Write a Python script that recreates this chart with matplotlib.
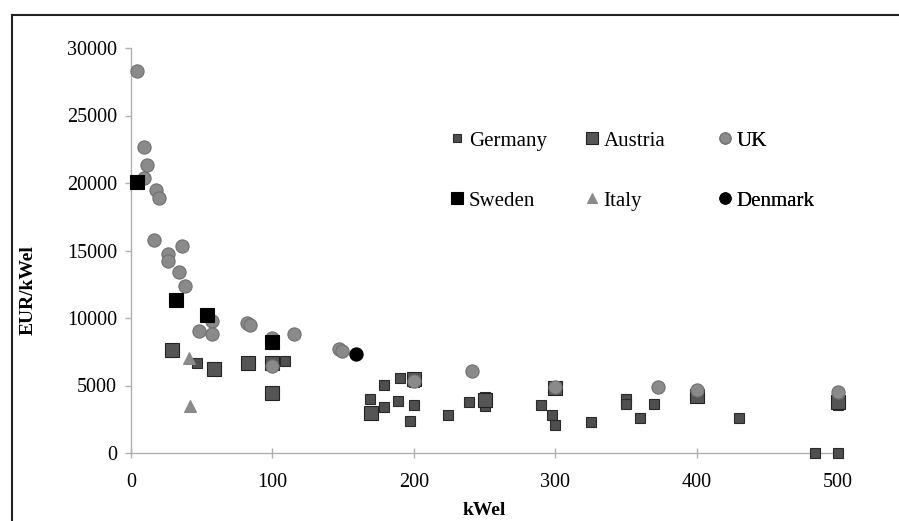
import matplotlib
matplotlib.use('Agg')
import matplotlib.pyplot as plt
from matplotlib.lines import Line2D

# kWel / EUR per kWel
germany_x = [47, 109, 169, 179, 179, 189, 190, 197, 200, 200, 224, 239, 250, 250,
             290, 298, 300, 325, 350, 350, 360, 370, 400, 430, 484, 500, 500, 500]
germany_y = [6650, 6800, 4000, 5050, 3400, 3850, 5550, 2400, 5250, 3550, 2850, 3800, 4150, 3500,
             3550, 2800, 2050, 2300, 4000, 3600, 2600, 3600, 4400, 2600, 0, 0, 4100, 3550]
austria_x = [29, 59, 83, 100, 100, 170, 200, 250, 300, 400, 500]
austria_y = [7600, 6200, 6650, 6650, 4450, 2950, 5500, 3950, 4800, 4200, 3800]
uk_x = [4, 9, 9, 11, 18, 20, 16, 36, 26, 26, 34, 38, 57, 48, 57, 82, 84, 100, 100, 115,
        147, 149, 200, 241, 300, 373, 400, 500]
uk_y = [28300, 22700, 20400, 21300, 19450, 18900, 15750, 15350, 14750, 14200, 13400, 12350,
        9750, 9050, 8800, 9600, 9450, 8550, 6450, 8800, 7700, 7550, 5350, 6100, 4900, 4900,
        4650, 4500]
sweden_x = [4, 32, 54, 100]
sweden_y = [20100, 11300, 10200, 8250]
italy_x = [41, 42]
italy_y = [7050, 3500]
denmark_x = [159]
denmark_y = [7350]

plt.rcParams['font.family'] = ['Liberation Serif', 'DejaVu Serif']

fig = plt.figure(figsize=(8.99, 5.21), dpi=100)
ax = fig.add_axes([131 / 899, 1 - 453 / 521, 707 / 899, 405 / 521])

series = [
    ('Germany', germany_x, germany_y, 's', 6.5, '#4f4f4f', '#2a2a2a'),
    ('Austria', austria_x, austria_y, 's', 10.5, '#555555', '#222222'),
    ('UK', uk_x, uk_y, 'o', 9.5, '#8a8a8a', '#707070'),
    ('Sweden', sweden_x, sweden_y, 's', 10.5, '#000000', '#000000'),
    ('Italy', italy_x, italy_y, '^', 9, '#8a8a8a', '#8a8a8a'),
    ('Denmark', denmark_x, denmark_y, 'o', 9.5, '#000000', '#000000'),
]
handles = []
for name, xs, ys, mk, ms, fc, ec in series:
    ax.plot(xs, ys, linestyle='none', marker=mk, markersize=ms,
            markerfacecolor=fc, markeredgecolor=ec, markeredgewidth=0.8,
            clip_on=False, zorder=3)
    handles.append(Line2D([], [], linestyle='none', marker=mk, markersize=ms * 0.85,
                          markerfacecolor=fc, markeredgecolor=ec, markeredgewidth=0.8,
                          label=name))

ax.set_xlim(0, 500)
ax.set_ylim(0, 30000)
ax.set_xticks([0, 100, 200, 300, 400, 500])
ax.set_yticks([0, 5000, 10000, 15000, 20000, 25000, 30000])
for s in ['top', 'right']:
    ax.spines[s].set_visible(False)
for s in ['left', 'bottom']:
    ax.spines[s].set_color('#b0b0b0')
    ax.spines[s].set_linewidth(1.0)
ax.tick_params(axis='y', direction='out', length=4, width=1, color='#b0b0b0',
               labelsize=14.5, pad=6)
ax.tick_params(axis='x', direction='inout', length=7, width=1, color='#b0b0b0',
               labelsize=14.5, pad=11)
ax.set_xlabel('kWel', fontsize=14, fontweight='bold', labelpad=7)
ax.set_ylabel('EUR/kWel', fontsize=14, fontweight='bold')
# the axis title sits a bit below the middle of the axis in the original
ax.yaxis.set_label_coords(-0.133, 0.4025)

# legend: three columns, each its own legend
col_x = [451, 586, 719]
for i in range(3):
    leg = ax.legend(handles=[handles[i], handles[i + 3]], loc='upper left',
                    bbox_to_anchor=(col_x[i] / 899, 1 - 131 / 521),
                    bbox_transform=fig.transFigure, frameon=False, fontsize=15,
                    handlelength=0.6, handletextpad=0.25, labelspacing=1.95,
                    borderpad=0, borderaxespad=0)
    ax.add_artist(leg)

# outer frame of the picture
fig.add_artist(Line2D([12 / 899, 1], [1 - 15 / 521, 1 - 15 / 521],
                      transform=fig.transFigure, color='#222222', linewidth=1.5))
fig.add_artist(Line2D([12 / 899, 12 / 899], [0, 1 - 15 / 521],
                      transform=fig.transFigure, color='#222222', linewidth=1.5))

fig.savefig('out.png', dpi=100)
